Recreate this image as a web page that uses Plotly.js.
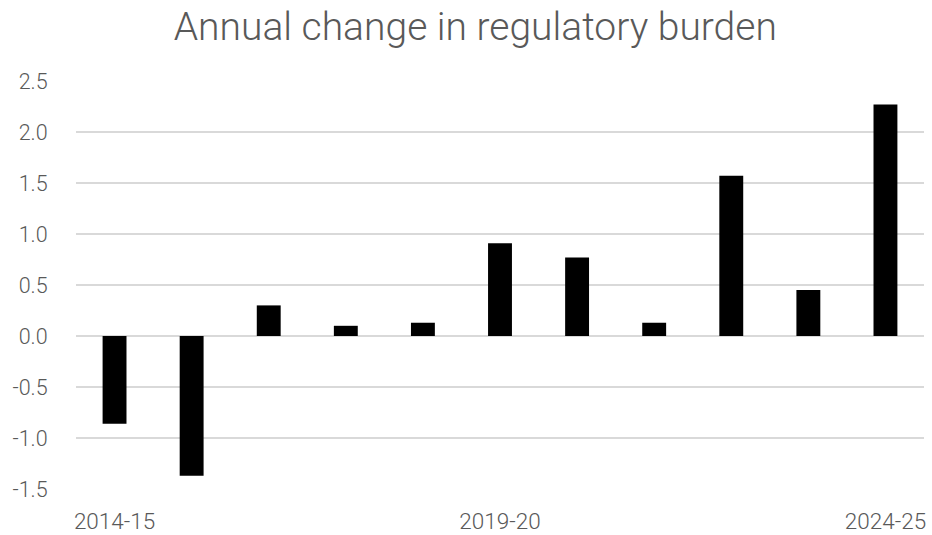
<!DOCTYPE html>
<html>
<head>
<meta charset="utf-8">
<script src="https://cdn.plot.ly/plotly-3.0.1.min.js"></script>
<style>html,body{margin:0;padding:0;background:#fff;}#chart{width:932px;height:535px;}</style>
</head>
<body>
<div id="chart"></div>
<script>
const years = ['2014-15','2015-16','2016-17','2017-18','2018-19','2019-20','2020-21','2021-22','2022-23','2023-24','2024-25'];
const changes = [-0.86, -1.37, 0.30, 0.10, 0.13, 0.91, 0.77, 0.13, 1.57, 0.45, 2.27];
const xTickLabels = ['2014-15','2019-20','2024-25'];
const yTicks = [-1.5,-1.0,-0.5,0.0,0.5,1.0,1.5,2.0,2.5];

const fontFam = 'Roboto, "Open Sans", sans-serif';
const trace = {
  type: 'bar',
  x: years,
  y: changes,
  marker: {color: '#000000'},
  hoverinfo: 'x+y'
};
const layout = {
  width: 932, height: 535,
  margin: {l: 76, r: 8, t: 81, b: 46},
  paper_bgcolor: '#ffffff', plot_bgcolor: '#ffffff',
  bargap: 0.69,
  showlegend: false,
  title: {
    text: 'Annual change in regulatory burden',
    font: {family: fontFam, size: 39, color: '#595959', weight: 300},
    x: 0.51, xanchor: 'center', y: 0.95, yanchor: 'middle'
  },
  xaxis: {
    type: 'category',
    tickmode: 'array',
    tickvals: xTickLabels,
    ticktext: xTickLabels,
    showgrid: false,
    showline: false,
    ticks: 'outside', ticklen: 12, tickcolor: 'rgba(0,0,0,0)',
    tickfont: {family: fontFam, size: 22.5, color: '#595959', weight: 300}
  },
  yaxis: {
    range: [-1.5, 2.5],
    tickmode: 'array',
    tickvals: yTicks,
    ticktext: yTicks.map(v => v.toFixed(1)),
    showgrid: true, gridcolor: '#d9d9d9', gridwidth: 1.3,
    zeroline: true, zerolinecolor: '#d9d9d9', zerolinewidth: 1.3,
    showline: false,
    ticks: 'outside', ticklen: 23, tickcolor: 'rgba(0,0,0,0)',
    tickfont: {family: fontFam, size: 21.5, color: '#595959', weight: 300}
  }
};
Plotly.newPlot('chart', [trace], layout, {displayModeBar: false, staticPlot: true});
</script>
</body>
</html>
